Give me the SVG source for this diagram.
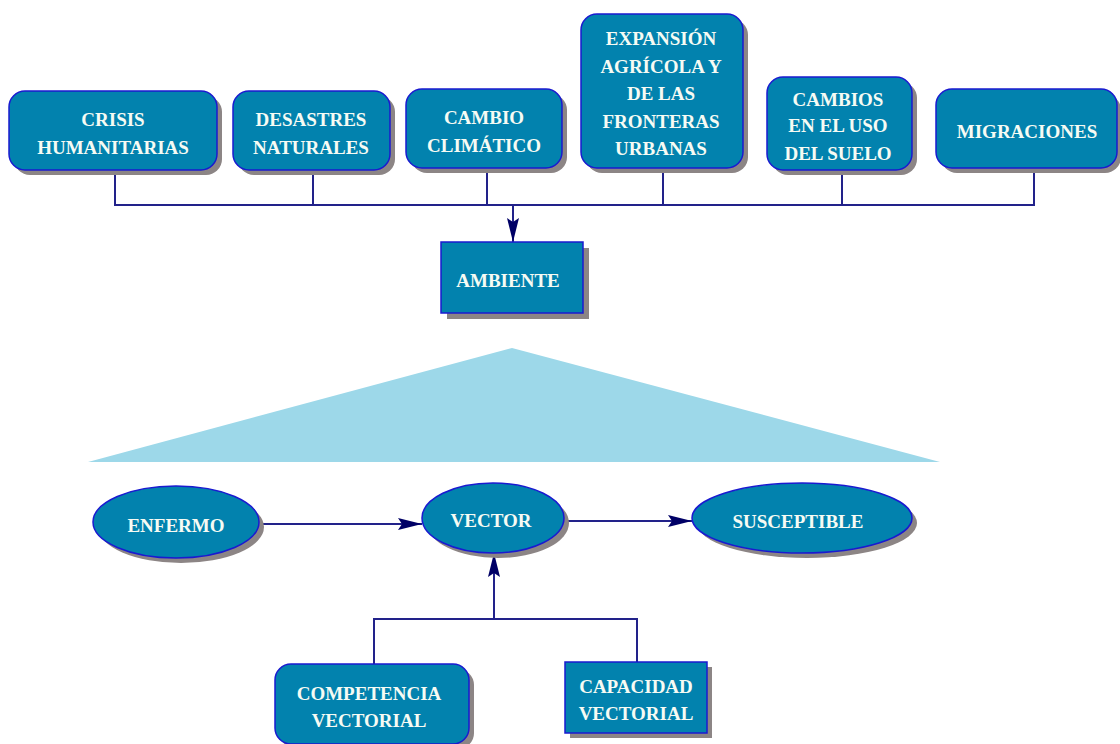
<svg xmlns="http://www.w3.org/2000/svg" width="1120" height="744" viewBox="0 0 1120 744">
<style>
.box{fill:#0282ae;stroke:#1a1ad0;stroke-width:1.5}
.sh{fill:#8c8585}
.t{font-family:"Liberation Serif","Times New Roman",serif;font-weight:bold;font-size:19px;fill:#f6fbf4;text-anchor:middle}
.ln{fill:none;stroke:#22228a;stroke-width:2}
</style>
<defs>
<marker id="ah" viewBox="0 0 24 12" markerWidth="24" markerHeight="12" refX="24" refY="6" orient="auto" markerUnits="userSpaceOnUse">
<path d="M0,0 L24,6 L0,12 L4,6 z" fill="#000066"/>
</marker>
</defs>
<rect width="1120" height="744" fill="#ffffff"/>
<polygon id="triangle" points="88,462 512,348 940,462" fill="#9dd8e9"/>
<g id="connectors">
<path class="ln" d="M115,175 V205 H1034 V168 M313,170 V205 M487,168 V205 M663,168 V205 M842,170 V205"/>
<path class="ln" d="M513,205 V242" marker-end="url(#ah)"/>
<path class="ln" d="M260,524 H422" marker-end="url(#ah)"/>
<path class="ln" d="M564,521 H692" marker-end="url(#ah)"/>
<path class="ln" d="M374,664 V619 H637 V662 M494,619 V553" marker-end="url(#ah)"/>
</g>
<g id="crisis">
<rect class="sh" x="14" y="96" width="208" height="79" rx="16"/>
<rect class="box" x="9" y="91" width="208" height="79" rx="16"/>
<text class="t" x="113" y="126">CRISIS</text>
<text class="t" x="113" y="154">HUMANITARIAS</text>
</g>
<g id="desastres">
<rect class="sh" x="238" y="96" width="157" height="79" rx="16"/>
<rect class="box" x="233" y="91" width="157" height="79" rx="16"/>
<text class="t" x="311" y="126">DESASTRES</text>
<text class="t" x="311" y="154">NATURALES</text>
</g>
<g id="cambio">
<rect class="sh" x="411" y="94" width="156" height="79" rx="16"/>
<rect class="box" x="406" y="89" width="156" height="79" rx="16"/>
<text class="t" x="484" y="124">CAMBIO</text>
<text class="t" x="484" y="152">CLIMÁTICO</text>
</g>
<g id="expansion">
<rect class="sh" x="586" y="19" width="162" height="154" rx="16"/>
<rect class="box" x="581" y="14" width="162" height="154" rx="16"/>
<text class="t" x="661" y="45">EXPANSIÓN</text>
<text class="t" x="661" y="73">AGRÍCOLA Y</text>
<text class="t" x="661" y="100">DE LAS</text>
<text class="t" x="661" y="128">FRONTERAS</text>
<text class="t" x="661" y="155">URBANAS</text>
</g>
<g id="cambios">
<rect class="sh" x="772" y="82" width="145" height="93" rx="16"/>
<rect class="box" x="767" y="77" width="145" height="93" rx="16"/>
<text class="t" x="838" y="106">CAMBIOS</text>
<text class="t" x="838" y="132">EN EL USO</text>
<text class="t" x="838" y="160">DEL SUELO</text>
</g>
<g id="migraciones">
<rect class="sh" x="941" y="94" width="180" height="79" rx="16"/>
<rect class="box" x="936" y="89" width="181" height="79" rx="16"/>
<text class="t" x="1027" y="138">MIGRACIONES</text>
</g>
<g id="ambiente">
<rect class="sh" x="447" y="248" width="142" height="71"/>
<rect class="box" x="441" y="242" width="142" height="71"/>
<text class="t" x="508" y="287">AMBIENTE</text>
</g>
<g id="enfermo">
<ellipse class="sh" cx="181" cy="527" rx="83" ry="36"/>
<ellipse class="box" cx="176" cy="522" rx="83" ry="36"/>
<text class="t" x="176" y="532">ENFERMO</text>
</g>
<g id="vector">
<ellipse class="sh" cx="498" cy="523" rx="71" ry="35"/>
<ellipse class="box" cx="493" cy="518" rx="71" ry="35"/>
<text class="t" x="491" y="527">VECTOR</text>
</g>
<g id="susceptible">
<ellipse class="sh" cx="807" cy="523" rx="110" ry="35"/>
<ellipse class="box" cx="802" cy="518" rx="110" ry="35"/>
<text class="t" x="798" y="528">SUSCEPTIBLE</text>
</g>
<g id="competencia">
<rect class="sh" x="280" y="669" width="194" height="80" rx="16"/>
<rect class="box" x="275" y="664" width="194" height="80" rx="16"/>
<text class="t" x="369" y="700">COMPETENCIA</text>
<text class="t" x="369" y="727">VECTORIAL</text>
</g>
<g id="capacidad">
<rect class="sh" x="570" y="667" width="142" height="71"/>
<rect class="box" x="565" y="662" width="142" height="71"/>
<text class="t" x="636" y="693">CAPACIDAD</text>
<text class="t" x="636" y="720">VECTORIAL</text>
</g>
</svg>
